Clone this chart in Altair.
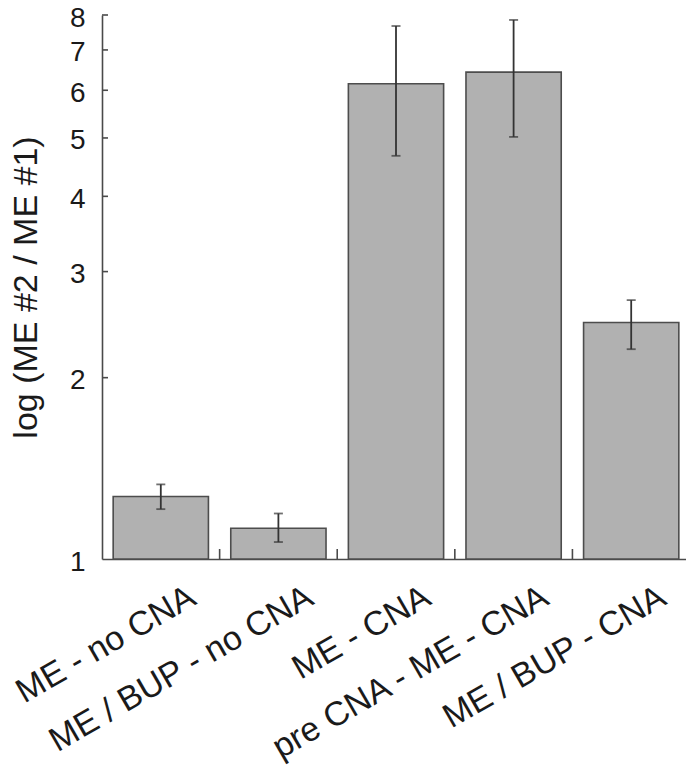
import altair as alt
import pandas as pd

categories = ["ME - no CNA", "ME / BUP - no CNA", "ME - CNA", "pre CNA - ME - CNA", "ME / BUP - CNA"]
means = [1.27, 1.125, 6.15, 6.43, 2.47]
err_low = [1.21, 1.067, 4.67, 5.02, 2.23]
err_high = [1.33, 1.19, 7.67, 7.85, 2.69]
baseline = [1, 1, 1, 1, 1]
y_tick_values = [1, 2, 3, 4, 5, 6, 7, 8]

df = pd.DataFrame({"cat": categories, "mean": means, "lo": err_low, "hi": err_high, "base": baseline})
df_ticks = pd.DataFrame({"mean": y_tick_values[1:]})
df_xticks = pd.DataFrame({"cat": categories[:-1]})

FONT = "Liberation Sans"
AX = "#4a4a4a"
W, H = 584, 544

xscale = alt.Scale(domain=categories, range=[0, 588], paddingInner=0.19, paddingOuter=0.095)
yscale = alt.Scale(type="log", domain=[1, 8], nice=False)

xaxis = alt.Axis(title=None, labelAngle=-30, labelAlign="right", labelBaseline="alphabetic",
                 labelPadding=44, labelOffset=37, ticks=False, tickSize=0,
                 domainColor=AX, domainWidth=1.6, labelFont=FONT, labelFontSize=34,
                 labelColor="#1a1a1a", labelLimit=1000, labelOverlap=False, labelBound=False)
yaxis = alt.Axis(values=y_tick_values, format="d", ticks=False, tickSize=0, labelPadding=17,
                 labelFont=FONT, labelFontSize=28, labelColor="#1a1a1a", grid=False,
                 domainColor=AX, domainWidth=1.6, labelOverlap=False, labelOffset=3,
                 title="log (ME #2 / ME #1)", titleFont=FONT, titleFontSize=34,
                 titleFontWeight="normal", titleColor="#1a1a1a", titleAngle=270,
                 titleX=-66, titleY=272, titleAlign="center", titleBaseline="alphabetic")

def X(**kw):
    return alt.X("cat:N", sort=categories, scale=xscale, axis=xaxis, **kw)

def Y(field):
    return alt.Y(field, type="quantitative", scale=yscale, axis=yaxis)

bars = alt.Chart(df).mark_bar(fill="#b1b1b1", stroke="#4d4d4d", strokeWidth=1.6).encode(
    x=X(), y=Y("mean"), y2=alt.Y2("base"),
)

err = alt.Chart(df).mark_rule(color="#333333", strokeWidth=1.8).encode(
    x=X(), y=Y("lo"), y2=alt.Y2("hi"),
)

cap_lo = alt.Chart(df).mark_tick(color="#333333", size=9, thickness=1.8).encode(x=X(), y=Y("lo"))
cap_hi = alt.Chart(df).mark_tick(color="#333333", size=9, thickness=1.8).encode(x=X(), y=Y("hi"))

yticks = alt.Chart(df_ticks).mark_rule(color=AX, strokeWidth=1.6).encode(
    y=Y("mean"), x=alt.value(0), x2=alt.value(6),
)

xticks = alt.Chart(df_xticks).mark_rule(color=AX, strokeWidth=1.6, xOffset=11.2).encode(
    x=X(bandPosition=1), y=alt.value(H - 10), y2=alt.value(H),
)

chart = alt.layer(bars, err, cap_lo, cap_hi, yticks, xticks).properties(
    width=W, height=H,
    autosize=alt.AutoSizeParams(type="none"),
    padding={"left": 102, "top": 15, "right": 0, "bottom": 212},
    background="#ffffff",
).configure_view(stroke=None)

chart.save("out.html", embed_options={"renderer": "svg", "actions": False})
